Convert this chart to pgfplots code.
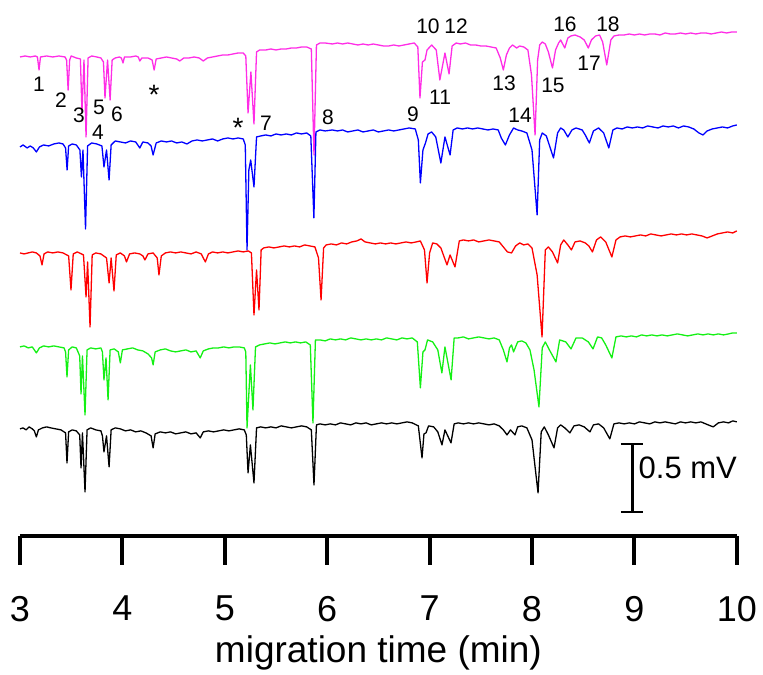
\documentclass[border=0pt]{standalone}
\usepackage{fontspec}
\setmainfont{Liberation Sans}
\usepackage{pgfplots}
\usepackage{pgfplotstable}
\pgfplotsset{compat=1.18}

\definecolor{cmag}{RGB}{255,45,230}
\definecolor{cblue}{RGB}{0,0,255}
\definecolor{cred}{RGB}{255,0,0}
\definecolor{cgreen}{RGB}{20,240,20}

% traces: migration time (min) and signal depth (1 mV = 136 units, offset per run)
\pgfplotstableread[row sep=\\]{
t y\\
3.00 57\\3.05 56\\3.10 57\\3.15 56\\3.17 57\\3.186 70\\3.20 57\\3.26 56\\3.32 57\\3.38 56\\3.44 57\\3.455 60\\3.47 90\\3.485 60\\3.50 56\\3.55 58\\3.59 59\\3.605 112\\3.625 60\\3.645 137\\3.665 58\\3.70 56\\3.75 57\\3.79 58\\3.815 62\\3.83 98\\3.855 60\\3.88 100\\3.90 60\\3.93 58\\3.97 57\\3.99 58\\4.006 63\\4.02 57\\4.08 57\\4.13 56\\4.155 57\\4.17 61\\4.19 58\\4.25 58\\4.29 60\\4.31 70\\4.33 59\\4.38 58\\4.43 57\\4.48 58\\4.53 59\\4.56 61\\4.60 58\\4.65 58\\4.70 57\\4.75 58\\4.79 61\\4.83 58\\4.88 57\\4.93 56\\4.98 55\\5.03 55\\5.08 54\\5.13 53\\5.18 53\\5.205 56\\5.227 113\\5.255 72\\5.285 124\\5.31 52\\5.34 50\\5.40 50\\5.45 49\\5.50 50\\5.55 49\\5.60 49\\5.65 48\\5.70 48\\5.75 47\\5.80 47\\5.845 49\\5.871 155\\5.895 45\\5.93 43\\5.98 43\\6.05 44\\6.10 43\\6.15 44\\6.20 43\\6.25 44\\6.30 45\\6.35 44\\6.40 45\\6.45 44\\6.50 45\\6.55 46\\6.60 46\\6.65 45\\6.70 46\\6.75 45\\6.80 44\\6.85 43\\6.885 47\\6.906 98\\6.93 62\\6.955 60\\6.975 50\\7.02 45\\7.065 50\\7.10 80\\7.15 53\\7.19 74\\7.22 46\\7.26 43\\7.30 44\\7.35 43\\7.40 45\\7.45 45\\7.50 46\\7.55 46\\7.60 47\\7.65 48\\7.69 58\\7.72 70\\7.75 55\\7.78 48\\7.81 45\\7.85 48\\7.88 46\\7.92 47\\7.96 50\\7.995 75\\8.03 135\\8.055 60\\8.075 45\\8.10 42\\8.13 44\\8.16 52\\8.20 68\\8.23 50\\8.26 43\\8.28 40\\8.32 48\\8.35 38\\8.38 36\\8.42 35\\8.47 37\\8.51 40\\8.55 48\\8.58 40\\8.62 36\\8.66 35\\8.69 42\\8.73 65\\8.77 40\\8.80 36\\8.85 35\\8.90 35\\8.95 34\\9.00 35\\9.05 34\\9.10 35\\9.15 34\\9.20 34\\9.25 35\\9.30 33\\9.35 34\\9.40 34\\9.45 33\\9.50 34\\9.55 33\\9.60 34\\9.65 33\\9.70 33\\9.75 34\\9.80 33\\9.85 32\\9.90 33\\9.95 32\\10.00 32\\
}\magtab

\pgfplotstableread[row sep=\\]{
t y\\
3.00 147\\3.03 145\\3.07 148\\3.10 146\\3.13 148\\3.16 152\\3.19 147\\3.23 145\\3.28 146\\3.33 144\\3.38 143\\3.42 144\\3.445 148\\3.46 170\\3.475 146\\3.51 144\\3.55 145\\3.585 150\\3.60 177\\3.615 150\\3.64 229\\3.66 146\\3.70 143\\3.75 144\\3.80 146\\3.82 167\\3.845 150\\3.87 180\\3.89 145\\3.93 141\\3.98 142\\4.03 143\\4.08 141\\4.13 142\\4.17 148\\4.20 142\\4.25 143\\4.28 146\\4.30 155\\4.33 143\\4.38 141\\4.43 142\\4.48 141\\4.53 143\\4.58 142\\4.63 144\\4.68 141\\4.73 140\\4.78 141\\4.83 140\\4.88 139\\4.93 141\\4.98 139\\5.03 138\\5.08 139\\5.13 138\\5.18 139\\5.20 145\\5.217 250\\5.235 170\\5.253 160\\5.285 187\\5.31 137\\5.35 136\\5.40 135\\5.45 136\\5.50 134\\5.55 135\\5.60 134\\5.65 135\\5.70 133\\5.75 134\\5.80 133\\5.84 136\\5.87 218\\5.89 132\\5.93 130\\5.98 131\\6.05 130\\6.10 131\\6.15 130\\6.20 132\\6.25 131\\6.30 130\\6.35 132\\6.40 131\\6.45 130\\6.50 132\\6.55 131\\6.60 130\\6.65 131\\6.70 130\\6.75 129\\6.80 128\\6.86 129\\6.89 140\\6.91 183\\6.935 150\\6.96 143\\6.985 134\\7.02 132\\7.06 137\\7.11 163\\7.15 137\\7.20 155\\7.23 130\\7.27 128\\7.32 129\\7.37 128\\7.42 129\\7.47 128\\7.52 129\\7.57 130\\7.62 129\\7.67 130\\7.70 138\\7.74 145\\7.78 135\\7.82 128\\7.86 130\\7.90 131\\7.95 133\\8.00 150\\8.05 215\\8.075 140\\8.10 133\\8.14 136\\8.21 158\\8.25 133\\8.28 128\\8.31 130\\8.35 137\\8.39 130\\8.43 128\\8.49 130\\8.52 135\\8.56 143\\8.60 131\\8.65 128\\8.70 133\\8.75 148\\8.79 130\\8.83 128\\8.88 129\\8.93 127\\8.98 128\\9.03 127\\9.08 128\\9.13 126\\9.18 127\\9.23 128\\9.28 126\\9.33 127\\9.38 126\\9.43 128\\9.48 126\\9.53 127\\9.58 129\\9.63 133\\9.67 135\\9.71 131\\9.76 129\\9.81 128\\9.86 127\\9.91 128\\9.96 126\\10.00 125\\
}\bluetab

\pgfplotstableread[row sep=\\]{
t y\\
3.00 253\\3.04 254\\3.08 253\\3.12 252\\3.16 253\\3.195 256\\3.215 265\\3.235 254\\3.27 252\\3.32 253\\3.37 252\\3.42 253\\3.475 256\\3.498 290\\3.52 254\\3.56 252\\3.62 255\\3.645 297\\3.66 262\\3.684 327\\3.705 255\\3.74 253\\3.79 254\\3.845 258\\3.87 283\\3.89 258\\3.918 291\\3.94 255\\3.98 253\\4.02 256\\4.04 262\\4.07 254\\4.12 253\\4.17 254\\4.20 256\\4.22 260\\4.25 254\\4.30 253\\4.34 258\\4.357 275\\4.38 256\\4.42 253\\4.47 252\\4.52 253\\4.57 252\\4.62 253\\4.67 254\\4.72 252\\4.77 254\\4.81 262\\4.84 254\\4.88 252\\4.93 253\\4.98 252\\5.03 253\\5.08 252\\5.13 251\\5.18 252\\5.23 251\\5.26 253\\5.285 315\\5.31 270\\5.334 310\\5.355 250\\5.38 248\\5.43 247\\5.48 248\\5.53 247\\5.58 246\\5.63 247\\5.68 246\\5.73 247\\5.78 245\\5.83 246\\5.88 247\\5.915 258\\5.94 300\\5.965 248\\5.99 245\\6.04 244\\6.09 245\\6.14 243\\6.19 244\\6.24 242\\6.29 241\\6.33 239\\6.37 242\\6.42 243\\6.47 244\\6.52 243\\6.57 244\\6.62 243\\6.67 244\\6.72 243\\6.77 242\\6.82 243\\6.87 242\\6.91 241\\6.95 250\\6.975 283\\7.00 253\\7.03 243\\7.07 244\\7.11 248\\7.17 265\\7.20 255\\7.248 267\\7.29 241\\7.33 240\\7.38 241\\7.43 240\\7.48 242\\7.53 241\\7.58 240\\7.63 241\\7.68 242\\7.72 247\\7.76 252\\7.80 253\\7.84 246\\7.88 243\\7.92 245\\7.96 244\\8.00 248\\8.05 275\\8.098 337\\8.13 250\\8.16 247\\8.20 252\\8.25 263\\8.28 245\\8.31 240\\8.35 245\\8.385 250\\8.42 242\\8.47 241\\8.52 243\\8.555 246\\8.59 252\\8.63 240\\8.67 237\\8.72 242\\8.78 257\\8.82 240\\8.86 237\\8.91 236\\8.96 237\\9.01 236\\9.06 235\\9.11 236\\9.16 234\\9.21 235\\9.26 236\\9.31 235\\9.36 234\\9.41 235\\9.46 234\\9.51 235\\9.56 234\\9.61 235\\9.66 236\\9.71 238\\9.76 236\\9.81 234\\9.86 233\\9.91 232\\9.96 233\\10.00 231\\
}\redtab

\pgfplotstableread[row sep=\\]{
t y\\
3.00 347\\3.04 346\\3.08 348\\3.12 347\\3.16 353\\3.19 348\\3.23 346\\3.28 347\\3.33 346\\3.38 347\\3.43 348\\3.445 352\\3.459 377\\3.475 350\\3.51 347\\3.55 348\\3.583 356\\3.596 394\\3.61 356\\3.635 415\\3.655 350\\3.69 348\\3.74 349\\3.79 348\\3.805 352\\3.82 380\\3.84 358\\3.86 400\\3.88 350\\3.92 349\\3.96 352\\3.98 363\\4.00 350\\4.05 349\\4.10 348\\4.15 350\\4.20 351\\4.25 354\\4.285 358\\4.30 365\\4.32 352\\4.37 350\\4.42 349\\4.47 351\\4.52 352\\4.57 351\\4.62 350\\4.67 352\\4.72 351\\4.76 358\\4.79 351\\4.84 349\\4.89 348\\4.94 348\\4.99 347\\5.04 348\\5.09 347\\5.14 347\\5.19 348\\5.205 352\\5.217 428\\5.25 365\\5.275 410\\5.30 347\\5.34 345\\5.39 344\\5.44 343\\5.49 344\\5.54 343\\5.59 342\\5.64 343\\5.69 342\\5.74 343\\5.79 342\\5.835 345\\5.861 423\\5.885 340\\5.93 340\\5.98 341\\6.03 339\\6.08 340\\6.13 339\\6.18 340\\6.23 338\\6.28 339\\6.33 340\\6.38 339\\6.43 340\\6.48 339\\6.53 340\\6.58 338\\6.63 339\\6.68 340\\6.73 338\\6.78 339\\6.83 338\\6.88 342\\6.91 388\\6.935 352\\6.955 350\\6.98 340\\7.03 342\\7.08 350\\7.12 373\\7.15 347\\7.21 380\\7.24 338\\7.28 338\\7.33 337\\7.38 339\\7.43 338\\7.48 337\\7.53 338\\7.58 339\\7.63 338\\7.68 340\\7.72 350\\7.756 362\\7.78 348\\7.80 345\\7.82 352\\7.86 342\\7.90 341\\7.94 343\\7.98 350\\8.02 370\\8.068 407\\8.10 348\\8.13 342\\8.17 350\\8.234 362\\8.27 340\\8.33 342\\8.381 349\\8.43 338\\8.49 338\\8.55 342\\8.596 349\\8.64 337\\8.68 338\\8.72 345\\8.78 358\\8.82 337\\8.87 336\\8.92 337\\8.97 336\\9.02 337\\9.07 335\\9.12 336\\9.17 335\\9.22 336\\9.27 335\\9.32 336\\9.37 335\\9.42 334\\9.47 335\\9.52 336\\9.57 335\\9.62 334\\9.67 335\\9.72 334\\9.77 335\\9.82 334\\9.87 335\\9.92 334\\9.96 333\\10.00 333\\
}\greentab

\pgfplotstableread[row sep=\\]{
t y\\
3.00 429\\3.03 428\\3.06 430\\3.09 427\\3.12 429\\3.14 431\\3.16 437\\3.18 430\\3.22 428\\3.26 427\\3.30 428\\3.35 429\\3.40 430\\3.445 433\\3.459 463\\3.475 432\\3.51 430\\3.55 431\\3.583 435\\3.596 468\\3.61 433\\3.635 492\\3.655 430\\3.69 428\\3.74 430\\3.79 431\\3.805 436\\3.82 452\\3.845 436\\3.87 467\\3.89 430\\3.93 428\\3.98 429\\4.03 431\\4.08 430\\4.13 432\\4.18 431\\4.23 433\\4.28 436\\4.30 448\\4.32 434\\4.37 432\\4.42 433\\4.47 432\\4.52 434\\4.57 433\\4.62 432\\4.67 434\\4.72 433\\4.76 438\\4.79 432\\4.84 431\\4.89 432\\4.94 431\\4.99 430\\5.04 431\\5.09 430\\5.14 429\\5.19 430\\5.21 435\\5.227 473\\5.25 445\\5.285 483\\5.31 428\\5.35 427\\5.40 428\\5.45 427\\5.50 428\\5.55 426\\5.60 427\\5.65 428\\5.70 427\\5.75 426\\5.80 427\\5.845 430\\5.871 485\\5.895 425\\5.93 424\\5.98 425\\6.03 424\\6.08 425\\6.13 423\\6.18 424\\6.23 425\\6.28 423\\6.33 424\\6.38 423\\6.43 425\\6.48 424\\6.53 423\\6.58 424\\6.63 423\\6.68 424\\6.73 423\\6.78 422\\6.83 423\\6.89 426\\6.926 458\\6.945 434\\6.965 433\\6.99 426\\7.04 427\\7.08 432\\7.121 445\\7.15 430\\7.209 443\\7.24 424\\7.28 423\\7.33 424\\7.38 423\\7.43 424\\7.48 423\\7.53 424\\7.58 425\\7.63 424\\7.68 426\\7.72 430\\7.756 435\\7.79 430\\7.834 435\\7.86 427\\7.90 426\\7.95 428\\8.00 440\\8.059 493\\8.09 432\\8.12 427\\8.16 435\\8.215 448\\8.25 428\\8.28 425\\8.32 428\\8.37 433\\8.41 426\\8.46 425\\8.51 427\\8.566 432\\8.60 425\\8.65 424\\8.70 428\\8.76 439\\8.80 424\\8.85 423\\8.90 424\\8.95 423\\9.00 424\\9.05 422\\9.10 423\\9.15 424\\9.20 422\\9.25 423\\9.30 422\\9.35 423\\9.40 424\\9.45 422\\9.50 423\\9.55 422\\9.60 423\\9.65 422\\9.72 425\\9.77 427\\9.82 423\\9.87 422\\9.92 423\\9.96 421\\10.00 422\\
}\blacktab

\begin{document}
\begin{tikzpicture}
\begin{axis}[
    scale only axis,
    width=717pt, height=536pt,
    xmin=3, xmax=10, ymin=-536, ymax=0,
    axis x line=bottom, axis y line=none,
    x axis line style={-, line width=4pt},
    xtick={3,4,...,10}, ytick=\empty,
    tick align=outside,
    major tick length=29pt,
    tick style={black, line width=4pt},
    /pgf/number format/assume math mode=true,
    xticklabel style={font=\fontsize{36}{40}\selectfont, inner sep=0pt, anchor=north, yshift=-31pt},
    xlabel={migration time (min)},
    xlabel style={font=\fontsize{37}{42}\selectfont, inner sep=0pt, at={(axis description cs:0.5,0)}, anchor=center, yshift=-117pt},
    clip=false,
    every axis plot/.append style={line width=1.3pt, line join=round},
]
\path (axis cs:2.8047,-675) rectangle (axis cs:10.2559,0);

\addplot[cmag, no markers] table[x=t, y expr=-\thisrow{y}] {\magtab};
\addplot[cblue, no markers] table[x=t, y expr=-\thisrow{y}] {\bluetab};
\addplot[cred, no markers] table[x=t, y expr=-\thisrow{y}] {\redtab};
\addplot[cgreen, no markers] table[x=t, y expr=-\thisrow{y}] {\greentab};
\addplot[black, no markers] table[x=t, y expr=-\thisrow{y}] {\blacktab};

% peak labels
\begin{scope}[every node/.style={font=\fontsize{21}{24}\selectfont, inner sep=1pt}]
\node at (axis cs:3.186,-84) {1};
\node at (axis cs:3.400,-100) {2};
\node at (axis cs:3.576,-115) {3};
\node at (axis cs:3.762,-132) {4};
\node at (axis cs:3.771,-107) {5};
\node at (axis cs:3.947,-114) {6};
\node[font=\fontsize{28}{30}\selectfont] at (axis cs:4.309,-95) {*};
\node[font=\fontsize{28}{30}\selectfont] at (axis cs:5.129,-128) {*};
\node at (axis cs:5.402,-123) {7};
\node at (axis cs:6.008,-117) {8};
\node at (axis cs:6.838,-114) {9};
\node at (axis cs:6.984,-26) {10};
\node at (axis cs:7.102,-97) {11};
\node at (axis cs:7.258,-26) {12};
\node at (axis cs:7.727,-83) {13};
\node at (axis cs:7.883,-115) {14};
\node at (axis cs:8.205,-85) {15};
\node at (axis cs:8.322,-24) {16};
\node at (axis cs:8.557,-63) {17};
\node at (axis cs:8.742,-24) {18};
\end{scope}

% scale bar
\draw[line width=2.5pt] (axis cs:8.98,-444) -- (axis cs:8.98,-512);
\draw[line width=2.5pt] (axis cs:8.869,-444) -- (axis cs:9.084,-444);
\draw[line width=2.5pt] (axis cs:8.869,-512) -- (axis cs:9.084,-512);
\node[anchor=west, inner sep=0pt, font=\fontsize{31}{34}\selectfont] at (axis cs:9.04,-468) {0.5 mV};
\end{axis}
\end{tikzpicture}
\end{document}
